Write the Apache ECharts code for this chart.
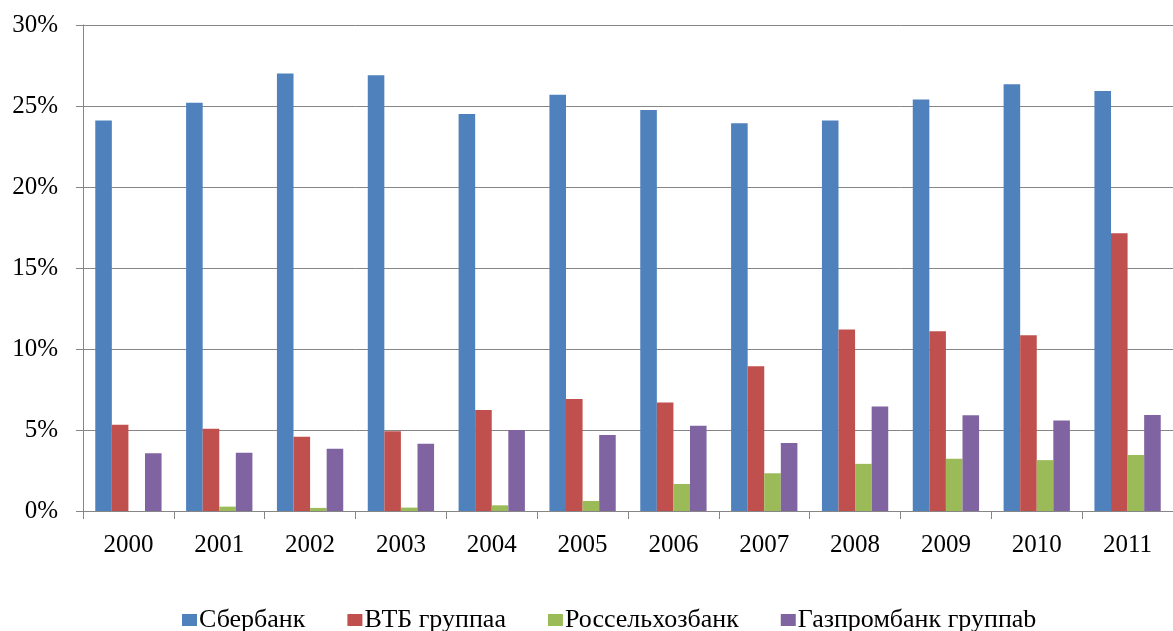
<!DOCTYPE html>
<html>
<head>
<meta charset="utf-8">
<script src="https://cdn.jsdelivr.net/npm/echarts@6/dist/echarts.min.js"></script>
<style>
html, body { margin: 0; padding: 0; background: #fff; }
#main { width: 1173px; height: 631px; }
</style>
</head>
<body>
<div id="main"></div>
<script>
var years = ['2000', '2001', '2002', '2003', '2004', '2005', '2006', '2007', '2008', '2009', '2010', '2011'];
var seriesNames = ['Сбербанк', 'ВТБ группаа', 'Россельхозбанк', 'Газпромбанк группаb'];
var sberbank = [24.1, 25.2, 27.0, 26.9, 24.5, 25.7, 24.75, 23.93, 24.1, 25.4, 26.35, 25.93];
var vtb = [5.33, 5.08, 4.59, 4.92, 6.24, 6.92, 6.69, 8.93, 11.2, 11.1, 10.85, 17.15];
var rshb = [0, 0.27, 0.19, 0.21, 0.35, 0.62, 1.67, 2.33, 2.91, 3.22, 3.14, 3.46];
var gazprom = [3.57, 3.6, 3.84, 4.15, 5.0, 4.69, 5.27, 4.19, 6.45, 5.91, 5.58, 5.92];
var colors = ['#4F81BD', '#C0504D', '#9BBB59', '#8064A2'];

var font = 'Liberation Serif, Times New Roman, serif';
var chart = echarts.init(document.getElementById('main'));

function makeSeries(name, data, i) {
	return {
		name : name,
		type : 'bar',
		data : data,
		barGap : '0%',
		barCategoryGap : '27%',
		itemStyle : { color : colors[i] },
		animation : false
	};
}

var option = {
	color : colors,
	textStyle : { fontFamily : font },
	grid : { left : 83, right : -9, top : 25, bottom : 120 },
	legend : {
		left : 177,
		top : 602,
		icon : 'rect',
		itemWidth : 15,
		itemHeight : 12,
		itemGap : 42,
		textStyle : { fontSize : 26, color : '#000', fontFamily : font, padding : [0, 0, 0, -3] },
		data : seriesNames
	},
	xAxis : {
		type : 'category',
		data : years,
		axisLine : { lineStyle : { color : '#868686', width : 1 } },
		axisTick : { show : true, length : 8, lineStyle : { color : '#868686' } },
		axisLabel : { fontSize : 25, color : '#000', margin : 22, fontFamily : font }
	},
	yAxis : {
		type : 'value',
		min : 0,
		max : 30,
		interval : 5,
		axisLine : { show : true, lineStyle : { color : '#868686', width : 1 } },
		axisTick : { show : true, length : 7, lineStyle : { color : '#868686' } },
		splitLine : { lineStyle : { color : '#868686', width : 1 } },
		axisLabel : {
			fontSize : 25,
			color : '#000',
			margin : 25,
			fontFamily : font,
			formatter : '{value}%'
		}
	},
	series : [
		makeSeries(seriesNames[0], sberbank, 0),
		makeSeries(seriesNames[1], vtb, 1),
		makeSeries(seriesNames[2], rshb, 2),
		makeSeries(seriesNames[3], gazprom, 3)
	]
};
chart.setOption(option);
</script>
</body>
</html>
